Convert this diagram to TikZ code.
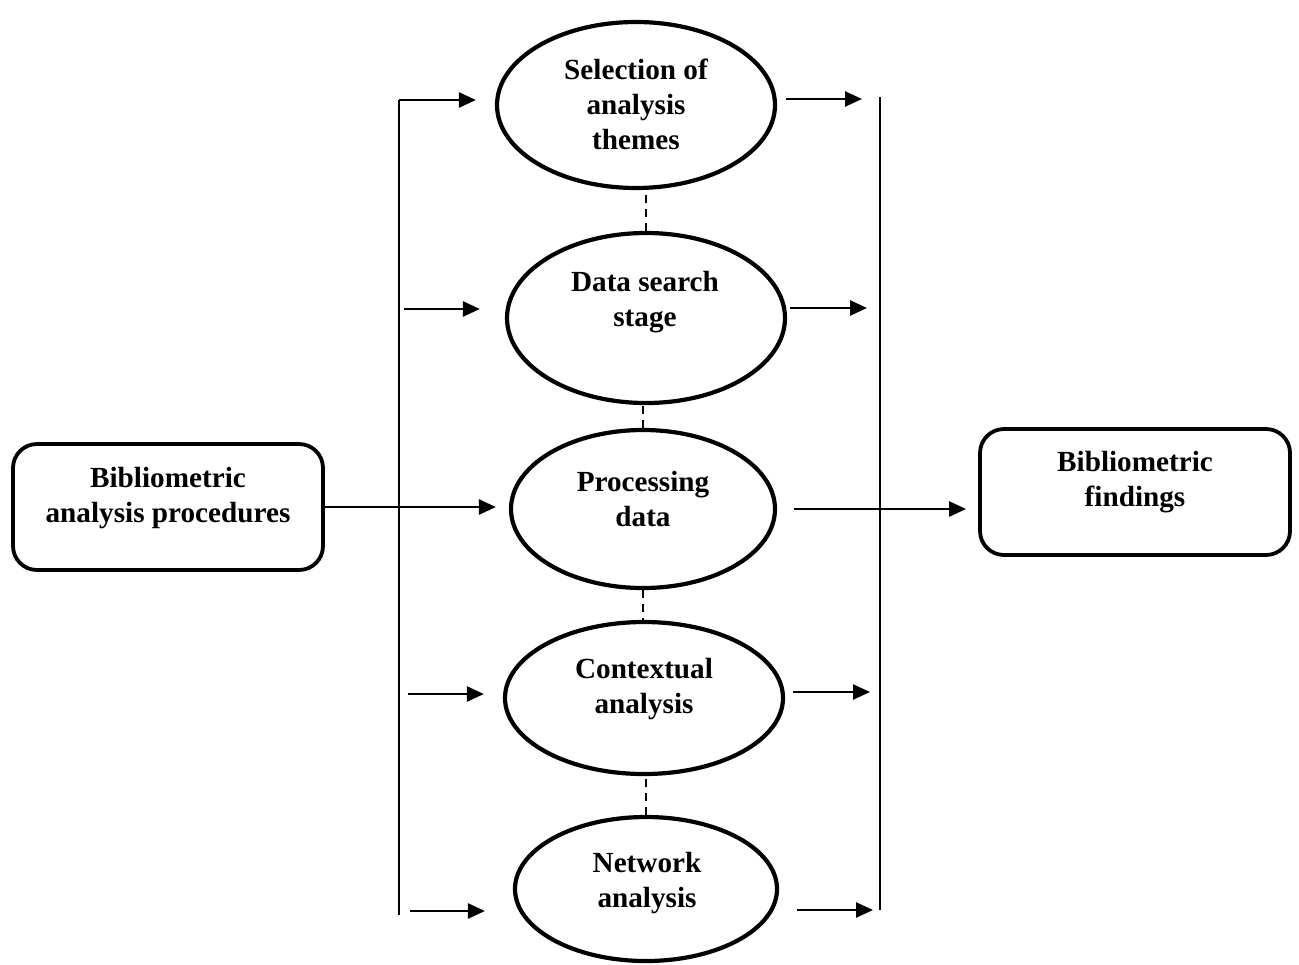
\documentclass[tikz,border=0pt]{standalone}
\usepackage{fontspec}
\setmainfont{Liberation Serif}
\usetikzlibrary{shapes.geometric,arrows.meta}

\begin{document}
\begin{tikzpicture}[x=0.5pt,y=-0.5pt,
    stage/.style={ellipse,draw,line width=2.1pt,inner sep=0pt},
    box/.style={draw,line width=1.9pt,rounded corners=12pt,minimum width=155pt,minimum height=63pt},
    txt/.style={align=center,font=\fontsize{14.6}{17.5}\selectfont\bfseries},
    arr/.style={line width=1.3pt,-{Triangle[length=8.5pt,width=7.5pt]}},
    bar/.style={line width=1.1pt},
    link/.style={dashed,dash pattern=on 4pt off 3pt,line width=0.9pt}]
        \useasboundingbox (0,0) rectangle (1299,964);
        % side boxes
        \node[box] (lbox) at (168,507) {};
        \node[txt] at (168,498) {Bibliometric\\analysis procedures};
        \node[box] (rbox) at (1135,492) {};
        \node[txt] at (1135,482) {Bibliometric\\findings};
        % stages
        \node[stage,minimum width=139pt,minimum height=83pt] (sel) at (636,105) {};
        \node[txt] at (636,104) {Selection of\\analysis\\themes};
        \node[stage,minimum width=139pt,minimum height=85pt] (data) at (646,318) {};
        \node[txt] at (645,302) {Data search\\stage};
        \node[stage,minimum width=132pt,minimum height=79pt] (proc) at (643,509) {};
        \node[txt] at (643,499) {Processing\\data};
        \node[stage,minimum width=139pt,minimum height=76pt] (ctx) at (644,698) {};
        \node[txt] at (644,689) {Contextual\\analysis};
        \node[stage,minimum width=131pt,minimum height=72pt] (net) at (646,889) {};
        \node[txt] at (647,883) {Network\\analysis};
        % dashed links
        \draw[link] (data.north) -- (data.north |- sel.south);
        \draw[link] (proc.north) -- (proc.north |- data.south);
        \draw[link] (proc.south) -- (proc.south |- ctx.north);
        \draw[link] (net.north) -- (net.north |- ctx.south);
        % bars
        \coordinate (l1) at (399,100);
        \coordinate (l2) at (399,309);
        \coordinate (l4) at (399,694);
        \coordinate (l5) at (399,911);
        \coordinate (lb) at (399,915);
        \coordinate (rt) at (880,97);
        \coordinate (r1) at (880,99);
        \coordinate (r2) at (880,308);
        \coordinate (r4) at (880,692);
        \coordinate (r5) at (880,910);
        \draw[bar] (l1) -- (lb);
        \draw[bar] (rt) -- (r5);
        % arrows in
        \draw[arr,shorten >=9.5pt] (l1) -- (l1 -| sel.west);
        \draw[arr,shorten <=2.5pt,shorten >=12.5pt] (l2) -- (l2 -| data.west);
        \draw[arr,shorten <=4.5pt,shorten >=9.5pt] (l4) -- (l4 -| ctx.west);
        \draw[arr,shorten <=5.5pt,shorten >=14pt] (l5) -- (l5 -| net.west);
        % arrows out
        \draw[arr,shorten <=4.5pt,shorten >=9pt] (r1 -| sel.east) -- (r1);
        \draw[arr,shorten <=1.5pt,shorten >=6.5pt] (r2 -| data.east) -- (r2);
        \draw[arr,shorten <=4pt,shorten >=5pt] (r4 -| ctx.east) -- (r4);
        \draw[arr,shorten <=9pt,shorten >=3.5pt] (r5 -| net.east) -- (r5);
        % main flow
        \draw[arr,shorten >=6.5pt] (lbox.east) -- (lbox.east -| proc.west);
        \draw[arr,shorten <=8.5pt,shorten >=6pt] (proc.east) -- (proc.east -| rbox.west);
\end{tikzpicture}
\end{document}
